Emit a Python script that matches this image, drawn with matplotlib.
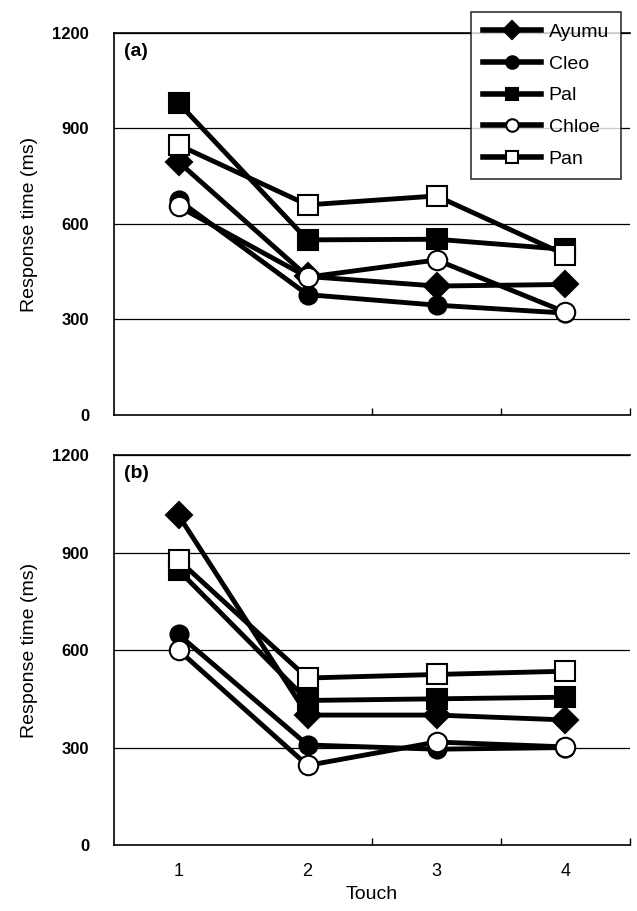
import matplotlib
matplotlib.use('Agg')
import matplotlib.pyplot as plt
from matplotlib.lines import Line2D

touch = [1, 2, 3, 4]
subjects = ['Ayumu', 'Cleo', 'Pal', 'Chloe', 'Pan']

# panel (a)
rt_a = {
    'Ayumu': [795, 435, 405, 410],
    'Cleo': [675, 378, 345, 320],
    'Pal': [980, 550, 552, 520],
    'Chloe': [655, 433, 487, 323],
    'Pan': [848, 660, 688, 503],
}
# panel (b)
rt_b = {
    'Ayumu': [1015, 400, 400, 385],
    'Cleo': [648, 308, 295, 300],
    'Pal': [846, 445, 450, 455],
    'Chloe': [600, 245, 317, 302],
    'Pan': [877, 514, 525, 535],
}

styles = {
    'Ayumu': dict(marker='D', mfc='black', ms=13),
    'Cleo': dict(marker='o', mfc='black', ms=13),
    'Pal': dict(marker='s', mfc='black', ms=14),
    'Chloe': dict(marker='o', mfc='white', ms=14),
    'Pan': dict(marker='s', mfc='white', ms=15),
}

plt.rcParams['font.family'] = ['Liberation Sans', 'DejaVu Sans']

fig = plt.figure(figsize=(6.37, 9.11), dpi=100)
ax_a = fig.add_axes([0.179, 0.5445, 0.810, 0.4193])
ax_b = fig.add_axes([0.179, 0.0724, 0.810, 0.428])

for ax, data, tag in [(ax_a, rt_a, '(a)'), (ax_b, rt_b, '(b)')]:
    for y in [300, 600, 900, 1200]:
        ax.axhline(y, color='black', lw=0.9, zorder=1)
    for name in subjects:
        st = styles[name]
        ax.plot(touch, data[name], color='black', lw=3.5,
                marker=st['marker'], ms=st['ms'], mfc=st['mfc'],
                mec='black', mew=1.5, zorder=3)
    ax.set_xlim(0.5, 4.5)
    ax.set_ylim(0, 1200)
    ax.set_yticks([0, 300, 600, 900, 1200])
    ax.set_yticklabels(['0', '300', '600', '900', '1200'],
                       fontsize=12, fontweight='bold')
    ax.set_xticks([2.5, 3.5, 4.5])
    ax.set_xticklabels([])
    ax.tick_params(axis='x', direction='in', length=5, width=1)
    ax.tick_params(axis='y', length=0, pad=18)
    for s in ['left', 'bottom', 'top']:
        ax.spines[s].set_linewidth(1.2)
    ax.spines['right'].set_visible(False)
    ax.set_ylabel('Response time (ms)', fontsize=14, labelpad=10)
    ax.text(0.02, 0.975, tag, transform=ax.transAxes, fontsize=14,
            fontweight='bold', va='top', ha='left')

# category labels centred in each bin
for t in touch:
    ax_b.text(t, -0.045, str(t), transform=ax_b.get_xaxis_transform(),
              ha='center', va='top', fontsize=13)
ax_b.text(2.5, -0.105, 'Touch', transform=ax_b.get_xaxis_transform(),
          ha='center', va='top', fontsize=14)

handles = [Line2D([], [], color='black', lw=4, marker=styles[n]['marker'],
                  ms=9, mfc=styles[n]['mfc'], mec='black',
                  mew=1.5) for n in subjects]
leg = fig.legend(handles, subjects, loc='upper left',
                 bbox_to_anchor=(471 / 637, 1 - 12 / 911),
                 borderaxespad=0, frameon=True, fancybox=False,
                 edgecolor='black', fontsize=14, handlelength=3.0,
                 handletextpad=0.4, labelspacing=0.72, borderpad=0.6)
leg.get_frame().set_linewidth(1.2)
leg.set_zorder(10)

fig.savefig('out.png', dpi=100)
